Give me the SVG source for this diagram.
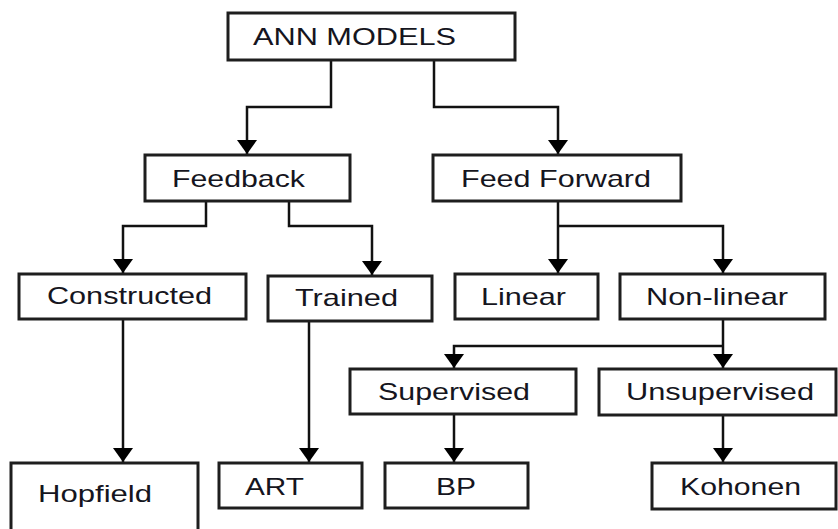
<svg xmlns="http://www.w3.org/2000/svg" width="838" height="529" viewBox="0 0 838 529">
<defs>
<style>
.box{fill:#fff;stroke:#1e1e1e;stroke-width:3}
.lbl{font-family:"Liberation Sans",Arial,sans-serif;font-size:24px;fill:#151520}
.con{fill:none;stroke:#111;stroke-width:2.5}
</style>
<marker id="ah" viewBox="0 0 14 20" refX="14" refY="10" markerWidth="14" markerHeight="20" markerUnits="userSpaceOnUse" orient="auto">
<path d="M0,0 L14,10 L0,20 z" fill="#000"/>
</marker>
</defs>
<rect width="838" height="529" fill="#fff"/>
<g id="connectors">
<path class="con" d="M331,61 V107 H247 V154" marker-end="url(#ah)"/>
<path class="con" d="M434,61 V107 H558 V154" marker-end="url(#ah)"/>
<path class="con" d="M206,202 V226 H123 V273" marker-end="url(#ah)"/>
<path class="con" d="M289,202 V226 H372 V275" marker-end="url(#ah)"/>
<path class="con" d="M558,202 V273" marker-end="url(#ah)"/>
<path class="con" d="M558,226 H723 V273" marker-end="url(#ah)"/>
<path class="con" d="M723,320 V368" marker-end="url(#ah)"/>
<path class="con" d="M723,346 H454 V368" marker-end="url(#ah)"/>
<path class="con" d="M454,415 V462" marker-end="url(#ah)"/>
<path class="con" d="M723,416 V462" marker-end="url(#ah)"/>
<path class="con" d="M123,320 V462" marker-end="url(#ah)"/>
<path class="con" d="M309,322 V462" marker-end="url(#ah)"/>
</g>
<g id="ann"><rect class="box" x="228" y="13" width="287" height="47"/><text class="lbl" x="253" y="45" textLength="203" lengthAdjust="spacingAndGlyphs">ANN MODELS</text></g>
<g id="feedback"><rect class="box" x="145" y="155" width="205" height="46"/><text class="lbl" x="172" y="187" textLength="133" lengthAdjust="spacingAndGlyphs">Feedback</text></g>
<g id="feedforward"><rect class="box" x="433" y="155" width="248" height="46"/><text class="lbl" x="461" y="187" textLength="190" lengthAdjust="spacingAndGlyphs">Feed Forward</text></g>
<g id="constructed"><rect class="box" x="19" y="274" width="227" height="45"/><text class="lbl" x="47" y="304" textLength="165" lengthAdjust="spacingAndGlyphs">Constructed</text></g>
<g id="trained"><rect class="box" x="268" y="276" width="164" height="45"/><text class="lbl" x="295" y="306" textLength="103" lengthAdjust="spacingAndGlyphs">Trained</text></g>
<g id="linear"><rect class="box" x="455" y="274" width="143" height="45"/><text class="lbl" x="481" y="305" textLength="85" lengthAdjust="spacingAndGlyphs">Linear</text></g>
<g id="nonlinear"><rect class="box" x="620" y="274" width="205" height="45"/><text class="lbl" x="646" y="305" textLength="142" lengthAdjust="spacingAndGlyphs">Non-linear</text></g>
<g id="supervised"><rect class="box" x="350" y="369" width="226" height="45"/><text class="lbl" x="378" y="400" textLength="152" lengthAdjust="spacingAndGlyphs">Supervised</text></g>
<g id="unsupervised"><rect class="box" x="599" y="369" width="237" height="46"/><text class="lbl" x="626" y="400" textLength="188" lengthAdjust="spacingAndGlyphs">Unsupervised</text></g>
<g id="hopfield"><rect class="box" x="11" y="463" width="187" height="80"/><text class="lbl" x="38" y="502" textLength="114" lengthAdjust="spacingAndGlyphs">Hopfield</text></g>
<g id="art"><rect class="box" x="219" y="463" width="143" height="45"/><text class="lbl" x="245" y="495" textLength="59" lengthAdjust="spacingAndGlyphs">ART</text></g>
<g id="bp"><rect class="box" x="385" y="463" width="143" height="45"/><text class="lbl" x="436" y="495" textLength="40" lengthAdjust="spacingAndGlyphs">BP</text></g>
<g id="kohonen"><rect class="box" x="652" y="463" width="184" height="46"/><text class="lbl" x="680" y="495" textLength="121" lengthAdjust="spacingAndGlyphs">Kohonen</text></g>
</svg>
